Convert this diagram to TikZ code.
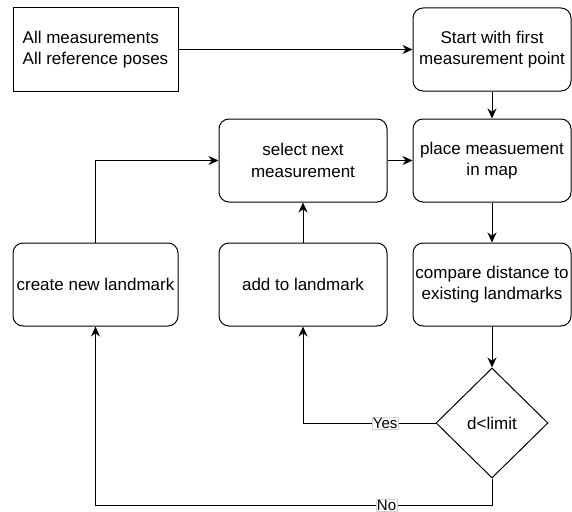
\documentclass[tikz,border=0pt]{standalone}
\usepackage{fontspec}
\setmainfont{Liberation Sans}
\usepackage{tikz}
\usetikzlibrary{shapes,arrows.meta,positioning}

\begin{document}
\begin{tikzpicture}[x=1pt, y=-1pt,
    box/.style={rectangle, draw, line width=1pt, rounded corners=10pt, align=center, minimum width=168pt, minimum height=83pt, inner sep=2pt, font=\fontsize{17}{21.5}\selectfont},
    rbox/.style={box, minimum width=158pt},
    decision/.style={diamond, draw, line width=1pt, shape aspect=1, minimum width=112pt, minimum height=110pt, inner sep=0pt, font=\fontsize{17}{21.5}\selectfont},
    arrow/.style={-{Stealth[length=10pt,width=9pt]}, line width=1pt},
    label/.style={fill=white, draw=gray!35, line width=0.5pt, inner sep=1pt, font=\fontsize{15}{16}\selectfont}]

    \useasboundingbox (0,0) rectangle (572,511);

    % Input
    \node[box, rounded corners=0pt, minimum width=165pt, align=left] (input) at (95.5,49.5) {All measurements\\All reference poses};

    % Main column
    \node[rbox] (start) at (492,49.5) {Start with first\\measurement point};
    \node[rbox] (place) at (492,160.5) {place measuement\\in map};
    \node[rbox] (compare) at (492,284.5) {compare distance to\\existing landmarks};
    \node[decision] (check) at (492,423) {d<limit};

    % Loop back
    \node[box] (select) at (303,160.5) {select next\\measurement};
    \node[box] (add) at (303,284.5) {add to landmark};
    \node[box, minimum width=165pt] (create) at (95.5,284.5) {create new landmark};

    % Arrows
    \draw[arrow] (input) -- (start);
    \draw[arrow] (start) -- (place);
    \draw[arrow] (place) -- (compare);
    \draw[arrow] (compare) -- (check);
    \draw[arrow] (select) -- (place);
    \draw[arrow] (add) -- (select);
    \draw[arrow] (create) |- (select);
    \draw[arrow] (check.west) -| node[pos=0.19, label] {Yes} (add.south);
    \draw[arrow] (check.south) -- ++(0,27) -| node[pos=0.133, label] {No} (create.south);

\end{tikzpicture}
\end{document}
